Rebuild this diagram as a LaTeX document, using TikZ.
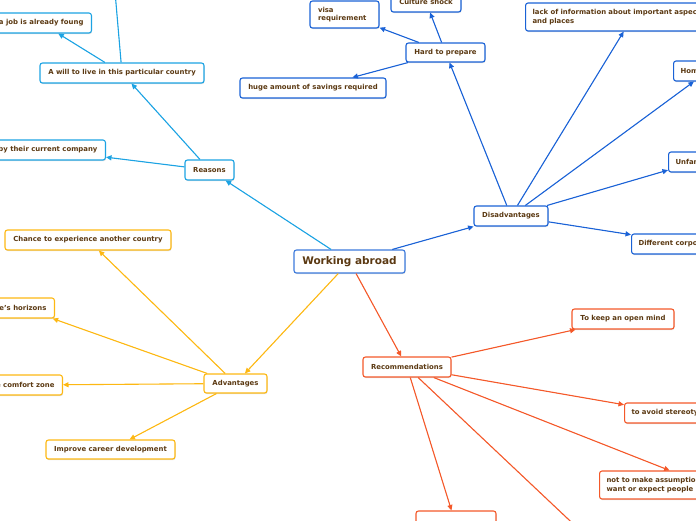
\documentclass[tikz,border=0pt]{standalone}
\usepackage{fontspec}
\setmainfont{DejaVu Sans}
\usetikzlibrary{arrows.meta,shadows}
\definecolor{cReason}{HTML}{1CA3E3}
\definecolor{cDis}{HTML}{1A62D6}
\definecolor{cAdv}{HTML}{FDB813}
\definecolor{cRec}{HTML}{F4592A}
\definecolor{txt}{HTML}{5B3912}
\tikzset{
  box/.style={draw, rounded corners=2.5pt, fill=white, line width=1.1pt,
    font=\fontsize{6.9}{8.6}\selectfont\bfseries, text=txt, inner xsep=7pt,
    inner ysep=0pt, minimum height=20pt, align=left,
    drop shadow={shadow xshift=0.5pt, shadow yshift=-1.2pt, opacity=0.25}},
  rbox/.style={box, draw=cReason},
  dbox/.style={box, draw=cDis},
  abox/.style={box, draw=cAdv},
  ebox/.style={box, draw=cRec},
  con/.style={line width=1.1pt, -{Triangle[length=5.5pt,width=5pt]}},
  rcon/.style={con, draw=cReason, fill=cReason},
  dcon/.style={con, draw=cDis, fill=cDis},
  acon/.style={con, draw=cAdv, fill=cAdv},
  econ/.style={con, draw=cRec, fill=cRec}
}
\begin{document}
\begin{tikzpicture}[x=1pt,y=-1pt]
\useasboundingbox (0,0) rectangle (696,520);
\clip (0,0) rectangle (696,520);
% central
\node[box, draw=cDis!85, minimum width=111pt, minimum height=23pt,
  font=\fontsize{10.5}{12}\selectfont\bfseries] (wa) at (349.5,261.5) {Working abroad};
% reasons
\node[rbox, minimum width=49pt] (reasons) at (209.5,170) {Reasons};
\node[rbox, minimum width=164pt] (will) at (122,73) {A will to live in this particular country};
\node[rbox, anchor=east, inner xsep=8pt] (job) at (92,23) {a job is already foung};
\node[rbox, anchor=east, inner xsep=8pt] (company) at (106,150) {by their current company};
\coordinate (upc) at (114,-20);
% disadvantages
\node[dbox, minimum width=74pt] (dis) at (511,216) {Disadvantages};
\node[dbox, minimum width=79pt, minimum height=19pt] (hard) at (445.5,52.5) {Hard to prepare};
\node[dbox, minimum width=70pt] (culture) at (426,2) {Culture shock};
\node[dbox, minimum width=69pt, minimum height=27pt, text width=53pt] (visa) at (344.5,14.5) {visa\\requirement};
\node[dbox, minimum width=146pt] (huge) at (313,88) {huge amount of savings required};
\node[dbox, anchor=west, minimum height=28pt, text width=200pt] (lack) at (525,17) {lack of information about important aspects\\and places};
\node[dbox, anchor=west] (hon) at (673,71) {Homesickness};
\node[dbox, anchor=west] (unfa) at (668,162) {Unfamiliar};
\node[dbox, anchor=west] (diff) at (631,244) {Different corporate culture};
% advantages
\node[abox, minimum width=63pt, minimum height=19pt] (adv) at (235.5,383.5) {Advantages};
\node[abox, minimum width=166pt] (chance) at (88,240) {Chance to experience another country};
\node[abox, anchor=east, inner xsep=8pt] (hor) at (55,308) {e's horizons};
\node[abox, anchor=east, inner xsep=8pt] (comfort) at (63,385) {e comfort zone};
\node[abox, minimum width=129pt, minimum height=19pt] (improve) at (110.5,449.5) {Improve career development};
% recommendations
\node[ebox, minimum width=88pt] (rec) at (407,367) {Recommendations};
\node[ebox, minimum width=102pt] (keep) at (623,319) {To keep an open mind};
\node[ebox, anchor=west] (avoid) at (624,413) {to avoid stereotypes};
\node[ebox, anchor=west, minimum height=28pt, text width=200pt] (assume) at (599,485) {not to make assumptions\\want or expect people};
\node[ebox, minimum width=80pt, minimum height=28pt] (bot) at (456,525) {};
\coordinate (cbot) at (585,535);
% connectors
\draw[rcon] (wa) -- (reasons);
\draw[rcon] (reasons) -- (will);
\draw[rcon] (reasons) -- (company);
\draw[rcon] (will) -- (job);
\draw[rcon] (will) -- (upc);
\draw[dcon] (wa) -- (dis);
\draw[dcon] (dis) -- (hard);
\draw[dcon] (hard) -- (culture);
\draw[dcon] (hard) -- (visa);
\draw[dcon] (hard) -- (huge);
\draw[dcon] (dis) -- (lack);
\draw[dcon] (dis) -- (hon);
\draw[dcon] (dis) -- (unfa);
\draw[dcon] (dis) -- (diff);
\draw[acon] (wa) -- (adv);
\draw[acon] (adv) -- (chance);
\draw[acon] (adv) -- (hor);
\draw[acon] (adv) -- (comfort);
\draw[acon] (adv) -- (improve);
\draw[econ] (wa) -- (rec);
\draw[econ] (rec) -- (keep);
\draw[econ] (rec) -- (avoid);
\draw[econ] (rec) -- (assume);
\draw[econ] (rec) -- (bot);
\draw[econ] (rec) -- (cbot);
\end{tikzpicture}
\end{document}
